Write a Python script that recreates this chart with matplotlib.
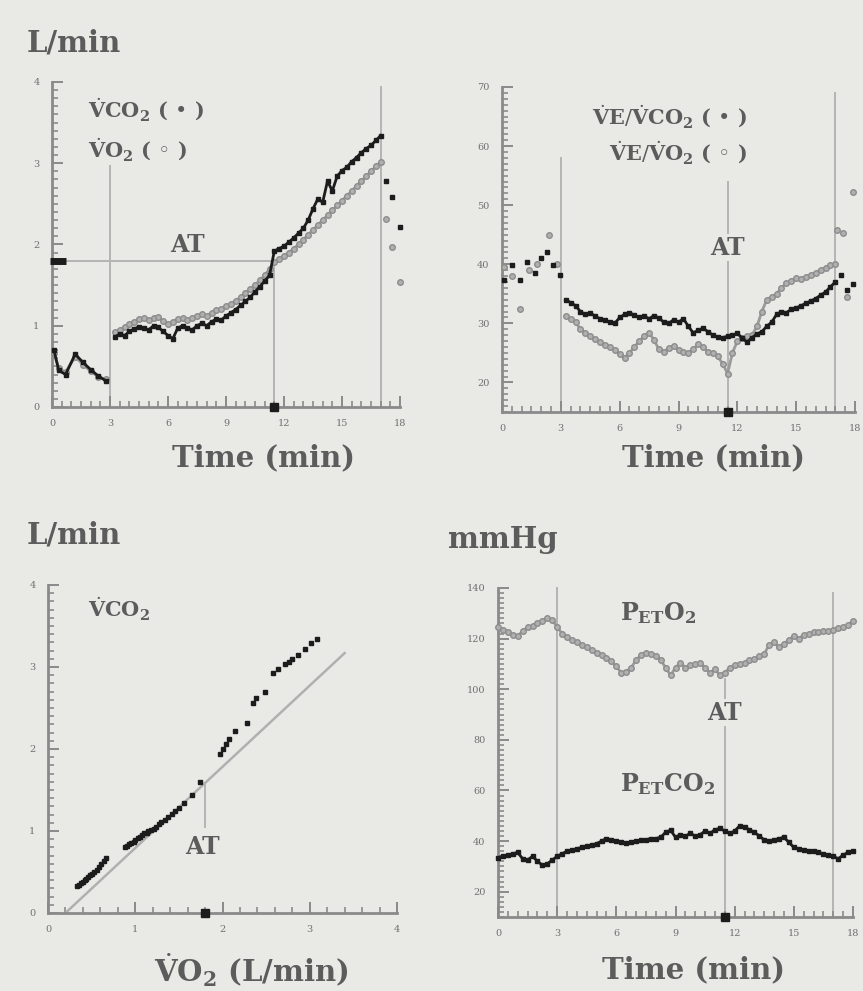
import numpy as np
import matplotlib
matplotlib.use("Agg")
import matplotlib.pyplot as plt
from matplotlib.ticker import MultipleLocator

W, H = 863, 991
BG = '#e9eae6'
TXT = '#5c5c5c'
BLACK = '#1c1c1c'
GREY = '#9a9a9a'
LINEC = '#b4b4b4'
SPINE = '#8a8a8a'

plt.rcParams['font.family'] = ['DejaVu Serif', 'DejaVu Sans']
plt.rcParams['mathtext.fontset'] = 'dejavuserif'

# ---------------- data ----------------
# Panel 1: VCO2 / VO2 vs time (L/min)
rest_t1 = [0.1, 0.35, 0.7, 1.2, 1.6, 2.0, 2.4, 2.8]
rest_vco2 = [0.70, 0.45, 0.40, 0.65, 0.55, 0.46, 0.38, 0.32]
rest_vo2 = [0.66, 0.48, 0.43, 0.62, 0.52, 0.44, 0.37, 0.34]
ex_t = np.arange(3.25, 17.01, 0.25)
ex_vco2 = [0.86, 0.90, 0.88, 0.93, 0.96, 0.99, 0.97, 0.95,
           1.00, 0.98, 0.93, 0.88, 0.84, 0.97, 1.00, 0.97,
           0.95, 1.00, 1.03, 1.00, 1.05, 1.08, 1.07, 1.12,
           1.16, 1.20, 1.25, 1.30, 1.35, 1.42, 1.48, 1.55,
           1.62, 1.92, 1.95, 1.98, 2.03, 2.08, 2.14, 2.20,
           2.30, 2.44, 2.56, 2.52, 2.78, 2.66, 2.84, 2.91,
           2.95, 3.02, 3.07, 3.13, 3.18, 3.22, 3.28, 3.34]
ex_vo2 = [0.92, 0.95, 0.98, 1.02, 1.05, 1.08, 1.10, 1.07,
          1.09, 1.11, 1.06, 1.02, 1.05, 1.08, 1.10, 1.07,
          1.09, 1.12, 1.14, 1.12, 1.16, 1.19, 1.21, 1.24,
          1.27, 1.31, 1.35, 1.40, 1.45, 1.50, 1.56, 1.62,
          1.70, 1.78, 1.82, 1.86, 1.90, 1.95, 2.00, 2.06,
          2.12, 2.18, 2.24, 2.30, 2.36, 2.42, 2.48, 2.54,
          2.60, 2.66, 2.72, 2.78, 2.84, 2.90, 2.96, 3.02]
rec_t_vco2 = [17.3, 17.6, 18.0]
rec_vco2 = [2.78, 2.58, 2.22]
rec_t_vo2 = [17.25, 17.6, 18.0]
rec_vo2 = [2.31, 1.97, 1.54]

# Panel 2: VE/VCO2 and VE/VO2 vs time
rest_t2a = [0.1, 0.5, 0.9, 1.3, 1.7, 2.0, 2.3, 2.6, 2.95]
rest_eqco2 = [37.4, 39.8, 37.4, 40.3, 38.6, 41.1, 42.0, 39.9, 38.2]
rest_t2b = [0.1, 0.5, 0.9, 1.4, 1.8, 2.4, 2.8]
rest_eqo2 = [39.5, 38.0, 32.5, 39.0, 40.0, 45.0, 40.0]
ex_eqco2 = [34.0, 33.5, 33.0, 32.0, 31.5, 31.8, 31.2, 30.8,
            30.5, 30.2, 30.0, 31.0, 31.5, 31.8, 31.4, 31.0,
            31.2, 30.8, 31.3, 30.9, 30.2, 30.0, 30.6, 30.2,
            30.8, 29.5, 28.4, 28.8, 29.2, 28.6, 28.0, 27.7,
            27.6, 27.8, 28.0, 28.3, 27.5, 26.8, 27.6, 28.2,
            28.6, 29.5, 30.2, 31.5, 32.0, 31.8, 32.4, 32.6,
            33.0, 33.4, 33.8, 34.2, 34.8, 35.3, 36.2, 37.0]
ex_eqo2 = [31.2, 30.8, 30.2, 29.0, 28.4, 27.8, 27.3, 26.8,
           26.4, 26.0, 25.5, 24.8, 24.2, 25.0, 26.0, 27.0,
           27.8, 28.4, 27.2, 25.6, 25.2, 25.8, 26.2, 25.5,
           25.2, 25.0, 25.6, 26.5, 26.0, 25.2, 25.0, 24.4,
           23.2, 21.5, 25.0, 27.0, 27.5, 27.8, 28.0, 29.5,
           32.0, 34.0, 34.5, 35.0, 36.0, 36.8, 37.2, 37.7,
           37.5, 37.9, 38.2, 38.6, 39.1, 39.4, 39.8, 40.0]
rec_t_eqco2 = [17.3, 17.6, 17.9]
rec_eqco2 = [38.2, 35.7, 36.6]
rec_t_eqo2 = [17.1, 17.4, 17.6, 17.9]
rec_eqo2 = [45.8, 45.3, 34.5, 52.3]

# Panel 3: VCO2 vs VO2 (V-slope)
vs_vo2 = [0.33, 0.35, 0.38, 0.40, 0.42, 0.44, 0.46, 0.48, 0.50, 0.53,
          0.56, 0.58, 0.61, 0.64, 0.66,
          0.88, 0.90, 0.93, 0.95, 0.98, 1.00, 1.03, 1.05, 1.08, 1.10,
          1.13, 1.15, 1.18, 1.21, 1.24, 1.27, 1.30, 1.34, 1.38, 1.42,
          1.46, 1.50, 1.56, 1.65, 1.74,
          1.97, 2.00, 2.04, 2.08, 2.14, 2.28, 2.35, 2.38, 2.49, 2.58,
          2.64, 2.72, 2.76, 2.80, 2.87, 2.95, 3.02, 3.08]
vs_vco2 = [0.33, 0.34, 0.36, 0.38, 0.40, 0.42, 0.44, 0.46, 0.48, 0.50,
           0.53, 0.56, 0.60, 0.64, 0.67,
           0.80, 0.82, 0.84, 0.85, 0.87, 0.89, 0.91, 0.93, 0.95, 0.97,
           0.98, 1.00, 1.01, 1.03, 1.05, 1.08, 1.11, 1.14, 1.17, 1.21,
           1.25, 1.28, 1.34, 1.44, 1.60,
           1.94, 2.00, 2.06, 2.12, 2.22, 2.32, 2.56, 2.62, 2.70, 2.93,
           2.97, 3.04, 3.06, 3.10, 3.15, 3.22, 3.29, 3.34]
ref_line_x = [0.2, 3.4]
ref_line_y = [0.0, 3.17]

# Panel 4: PETO2 and PETCO2 vs time
pet_t = np.arange(0, 18.01, 0.25)
peto2 = [124.5, 123.5, 122.5, 121.5, 121.0, 123.0, 124.5, 125.0,
         126.0, 127.0, 128.0, 127.5, 124.5, 122.0, 120.5, 119.5,
         118.5, 117.5, 116.5, 115.5, 114.5, 113.5, 112.5, 111.0,
         109.0, 106.5, 107.0, 108.5, 111.5, 113.5, 114.5, 114.0,
         113.0, 111.5, 108.5, 105.5, 108.5, 110.5, 108.5, 109.5,
         110.0, 110.5, 108.5, 106.5, 108.0, 105.5, 106.5, 108.5,
         109.5, 110.0, 110.5, 111.5, 112.0, 113.0, 114.0, 117.5,
         118.5, 116.5, 118.0, 119.5, 121.0, 120.0, 121.5, 122.0,
         122.5, 122.5, 123.0, 123.0, 123.5, 124.0, 124.5, 125.5,
         127.0]
petco2 = [33.5, 34.0, 34.5, 35.0, 35.5, 33.0, 32.5, 34.0,
          32.0, 30.5, 31.0, 32.5, 34.0, 35.0, 36.0, 36.5,
          37.0, 37.5, 38.0, 38.5, 39.0, 40.0, 41.0, 40.5,
          40.0, 39.5, 39.2, 39.5, 40.0, 40.3, 40.5, 41.0,
          41.0, 41.5, 43.5, 44.3, 41.5, 42.5, 42.0, 43.0,
          42.0, 42.5, 44.0, 43.0, 44.5, 45.0, 44.0, 43.0,
          44.0, 46.0, 45.5, 44.5, 43.5, 42.0, 40.5, 40.0,
          40.5, 41.0, 41.5, 39.5, 37.5, 37.0, 36.5, 36.0,
          36.0, 35.5, 35.0, 34.5, 34.0, 33.0, 34.5, 35.5,
          36.0]

AT_time = 11.5
AT_vo2 = 1.8
AT_level = 1.8
start_ex = 3.0
end_ex = 17.0

time_ticks = [0, 3, 6, 9, 12, 15, 18]

# ---------------- figure ----------------
fig = plt.figure(figsize=(W / 100, H / 100), dpi=100, facecolor=BG)


def px_axes(x0, x1, y_top, y_bot):
    return fig.add_axes([x0 / W, 1 - y_bot / H, (x1 - x0) / W, (y_bot - y_top) / H])


def style(ax, xminor, yminor):
    ax.set_facecolor(BG)
    for s in ['top', 'right']:
        ax.spines[s].set_visible(False)
    for s in ['left', 'bottom']:
        ax.spines[s].set_color(SPINE)
        ax.spines[s].set_linewidth(2.0)
    ax.xaxis.set_minor_locator(MultipleLocator(xminor))
    ax.yaxis.set_minor_locator(MultipleLocator(yminor))
    ax.tick_params(which='major', direction='in', length=8, width=1.4, color=SPINE,
                   labelsize=7, labelcolor='#707070', pad=9)
    ax.tick_params(which='minor', direction='in', length=4, width=1.2, color=SPINE)


def black_series(ax, x, y, line=True):
    ax.plot(x, y, color=BLACK, lw=2.0 if line else 0, marker='s', ms=3.3,
            mfc=BLACK, mec=BLACK, clip_on=False, zorder=4)


def grey_series(ax, x, y, line=True):
    ax.plot(x, y, color=GREY, lw=2.0 if line else 0, marker='o', ms=4.0,
            mfc='#b0b0b0', mec='#8c8c8c', mew=1.0, clip_on=False, zorder=3)


def vline(ax, x, y0, y1):
    ax.plot([x, x], [y0, y1], color=LINEC, lw=1.4, zorder=1, clip_on=False)


def ftext(x, y, s, size, ha='left', va='center', color=TXT, weight='bold'):
    fig.text(x / W, 1 - y / H, s, fontsize=size, ha=ha, va=va, color=color, fontweight=weight)


# ---- Panel 1 ----
ax1 = px_axes(52, 400, 82, 407)
ax1.set_xlim(0, 18)
ax1.set_ylim(0, 4)
style(ax1, 0.5, 0.1)
ax1.set_xticks(time_ticks)
ax1.set_yticks([0, 1, 2, 3, 4])
vline(ax1, start_ex, 0, 2.96)
vline(ax1, AT_time, 0, AT_level)
vline(ax1, end_ex, 0, 3.94)
ax1.plot([0, AT_time], [AT_level, AT_level], color=LINEC, lw=1.4, zorder=1)
grey_series(ax1, rest_t1, rest_vo2)
black_series(ax1, rest_t1, rest_vco2)
grey_series(ax1, ex_t, ex_vo2)
black_series(ax1, ex_t, ex_vco2)
grey_series(ax1, rec_t_vo2, rec_vo2, line=False)
black_series(ax1, rec_t_vco2, rec_vco2, line=False)
ax1.plot([0.3], [AT_level], marker='_', ms=12, mew=5, color=BLACK, clip_on=False, zorder=5)
ax1.plot([AT_time], [0], marker='s', ms=6, color=BLACK, clip_on=False, zorder=5)
ax1.text(7.0, 2.0, 'AT', fontsize=17, fontweight='bold', color=TXT, ha='center', va='center')
ax1.text(1.86, 3.66, r'$\dot{\mathbf{V}}\mathbf{CO}_\mathbf{2}$ ( • )', fontsize=15,
         fontweight='bold', color=TXT, ha='left', va='center')
ax1.text(1.86, 3.16, r'$\dot{\mathbf{V}}\mathbf{O}_\mathbf{2}$ ( ◦ )', fontsize=15,
         fontweight='bold', color=TXT, ha='left', va='center')
ftext(27, 43, 'L/min', 21)
ftext(264, 458, 'Time (min)', 21, ha='center')

# ---- Panel 2 ----
ax2 = px_axes(502, 855, 87, 412)
ax2.set_xlim(0, 18)
ax2.set_ylim(15, 70)
style(ax2, 0.5, 1)
ax2.set_xticks(time_ticks)
ax2.set_yticks([20, 30, 40, 50, 60, 70])
vline(ax2, start_ex, 15, 58)
vline(ax2, AT_time, 15, 54)
vline(ax2, end_ex, 15, 69)
grey_series(ax2, rest_t2b, rest_eqo2, line=False)
black_series(ax2, rest_t2a, rest_eqco2, line=False)
grey_series(ax2, ex_t, ex_eqo2)
black_series(ax2, ex_t, ex_eqco2)
grey_series(ax2, rec_t_eqo2, rec_eqo2, line=False)
black_series(ax2, rec_t_eqco2, rec_eqco2, line=False)
ax2.plot([AT_time], [15], marker='s', ms=6, color=BLACK, clip_on=False, zorder=5)
ax2.text(11.48, 42.8, 'AT', fontsize=17, fontweight='bold', color=TXT, ha='center', va='center',
         bbox=dict(facecolor=BG, edgecolor='none', pad=1))
ax2.text(12.5, 64.9, r'$\dot{\mathbf{V}}\mathbf{E}/\dot{\mathbf{V}}\mathbf{CO}_\mathbf{2}$ ( • )',
         fontsize=15, fontweight='bold', color=TXT, ha='right', va='center')
ax2.text(12.5, 58.8, r'$\dot{\mathbf{V}}\mathbf{E}/\dot{\mathbf{V}}\mathbf{O}_\mathbf{2}$ ( ◦ )',
         fontsize=15, fontweight='bold', color=TXT, ha='right', va='center')
ftext(713, 458, 'Time (min)', 21, ha='center')

# ---- Panel 3 ----
ax3 = px_axes(48, 397, 585, 913)
ax3.set_xlim(0, 4)
ax3.set_ylim(0, 4)
style(ax3, 0.2, 0.1)
ax3.set_xticks([0, 1, 2, 3, 4])
ax3.set_yticks([0, 1, 2, 3, 4])
ax3.plot(ref_line_x, ref_line_y, color='#b0b0b0', lw=1.8, zorder=2)
vline(ax3, AT_vo2, 1.05, 1.56)
black_series(ax3, vs_vo2, vs_vco2, line=False)
ax3.plot([AT_vo2], [0], marker='s', ms=6, color=BLACK, clip_on=False, zorder=5)
ax3.text(1.77, 0.80, 'AT', fontsize=17, fontweight='bold', color=TXT, ha='center', va='center')
ax3.text(0.46, 3.70, r'$\dot{\mathbf{V}}\mathbf{CO}_\mathbf{2}$', fontsize=15,
         fontweight='bold', color=TXT, ha='left', va='center')
ftext(27, 535, 'L/min', 21)
ftext(251, 970, r'$\dot{\mathbf{V}}\mathbf{O}_\mathbf{2}$ (L/min)', 21, ha='center')

# ---- Panel 4 ----
ax4 = px_axes(498, 853, 588, 917)
ax4.set_xlim(0, 18)
ax4.set_ylim(10, 140)
style(ax4, 0.5, 2)
ax4.set_xticks(time_ticks)
ax4.set_yticks([20, 40, 60, 80, 100, 120, 140])
vline(ax4, start_ex, 10, 140)
vline(ax4, AT_time, 10, 104)
vline(ax4, end_ex, 10, 138)
grey_series(ax4, pet_t, peto2)
black_series(ax4, pet_t, petco2)
ax4.plot([AT_time], [10], marker='s', ms=6, color=BLACK, clip_on=False, zorder=5)
ax4.text(11.5, 90.8, 'AT', fontsize=17, fontweight='bold', color=TXT, ha='center', va='center',
         bbox=dict(facecolor=BG, edgecolor='none', pad=1))
ax4.text(8.1, 130.2, r'P$_{\mathbf{ET}}$O$_\mathbf{2}$', fontsize=17, fontweight='bold',
         color=TXT, ha='center', va='center')
ax4.text(8.6, 62.4, r'P$_{\mathbf{ET}}$CO$_\mathbf{2}$', fontsize=17, fontweight='bold',
         color=TXT, ha='center', va='center', bbox=dict(facecolor=BG, edgecolor='none', pad=1))
ftext(448, 540, 'mmHg', 21)
ftext(693, 970, 'Time (min)', 21, ha='center')

fig.savefig('out.png', dpi=100, facecolor=BG)
